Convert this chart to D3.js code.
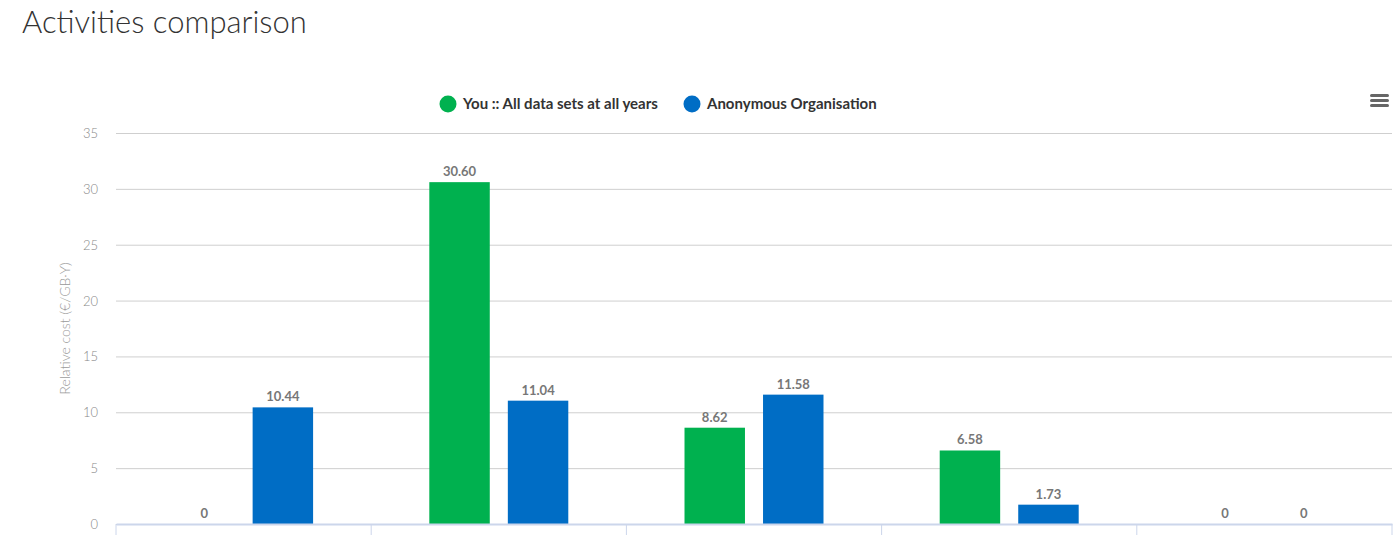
<!DOCTYPE html>
<html>
<head>
<meta charset="utf-8">
<script src="https://cdn.jsdelivr.net/npm/d3@7"></script>
<style>
	body { margin:0; background:#fff; }
	svg { display:block; font-family:Lato, 'Open Sans', sans-serif; }
</style>
</head>
<body>
<svg id="chart" width="1394" height="540"></svg>
<script>

var categories = ['Production','Ingestion','Archival storage','Access','Other'];
var seriesNames = ['You :: All data sets at all years','Anonymous Organisation'];
var youValues = [0, 30.60, 8.62, 6.58, 0];
var orgValues = [10.44, 11.04, 11.58, 1.73, 0];
var yTicks = [0,5,10,15,20,25,30,35];

var colors = ['#00b14f','#006dc5'];

var width = 1394;
var height = 540;
var marginLeft = 116;
var marginRight = 2;
var marginTop = 133;
var plotBottom = 524;

var svg = d3.select('#chart');

// title
svg.append('text')
	.attr('x',22)
	.attr('y',33)
	.style('font-size','31px')
	.style('font-weight','300')
	.style('fill','#333')
	.text('Activities comparison');

var x = d3.scaleBand()
		.domain(categories)
		.range([marginLeft, width-marginRight]);

var xInner = d3.scaleBand()
		.domain([0,1])
		.range([0, x.bandwidth()])
		.paddingInner(0.23)
		.paddingOuter(0.74);

var y = d3.scaleLinear()
		.domain([0,35])
		.range([plotBottom, marginTop]);

// grid
var grid = svg.append('g')
		.attr('transform','translate('+marginLeft+',0)')
		.call(d3.axisLeft(y).tickValues(yTicks).tickSize(-(width-marginRight-marginLeft)).tickFormat(''));
grid.select('.domain').remove();
grid.selectAll('line').attr('stroke','#cfcfcf');

// y labels
svg.append('g').selectAll('text')
	.data(yTicks)
	.enter()
	.append('text')
	.attr('x',98)
	.attr('y',function(d){ return y(d)+5 })
	.style('text-anchor','end')
	.style('font-size','13px')
	.style('font-weight','300')
	.style('fill','#888')
	.text(function(d){ return d });

svg.append('text')
	.attr('transform','translate(70,'+((marginTop+plotBottom)/2)+') rotate(-90)')
	.style('text-anchor','middle')
	.style('font-size','14px')
	.style('font-weight','300')
	.style('fill','#999')
	.text('Relative cost (€/GB·Y)');

// bars
var data = categories.map(function(c,i){ return { name:c, values:[youValues[i],orgValues[i]] } });

var groups = svg.selectAll('.grp')
		.data(data)
		.enter()
		.append('g')
		.attr('class','grp')
		.attr('transform',function(d){ return 'translate('+x(d.name)+',0)' });

groups.selectAll('rect')
	.data(function(d){ return d.values.map(function(v,k){ return {k:k,v:v} }) })
	.enter()
	.append('rect')
	.attr('x',function(d){ return xInner(d.k) })
	.attr('width',xInner.bandwidth())
	.attr('y',function(d){ return y(d.v) })
	.attr('height',function(d){ return y(0)-y(d.v) })
	.attr('fill',function(d){ return colors[d.k] });

groups.selectAll('.lbl')
	.data(function(d){ return d.values.map(function(v,k){ return {k:k,v:v} }) })
	.enter()
	.append('text')
	.attr('class','lbl')
	.attr('x',function(d){ return xInner(d.k)+xInner.bandwidth()/2 })
	.attr('y',function(d){ return y(d.v)-6 })
	.style('text-anchor','middle')
	.style('font-size','13px')
	.style('font-weight','bold')
	.style('fill','#777')
	.text(function(d){ return d.v===0 ? '0' : d.v.toFixed(2) });

// x axis
var xAxis = svg.append('g')
		.attr('transform','translate(0,'+plotBottom+')')
		.call(d3.axisBottom(x).tickSize(0).tickPadding(0));
xAxis.select('.domain').attr('stroke','#ccd6eb').attr('stroke-width',2);
xAxis.selectAll('text')
	.attr('y',21)
	.style('font-size','13px')
	.style('font-family','Lato, sans-serif')
	.style('fill','#666');

svg.append('g').selectAll('line')
	.data(categories.concat(['end']))
	.enter()
	.append('line')
	.attr('x1',function(d,i){ return marginLeft + i*x.bandwidth() })
	.attr('x2',function(d,i){ return marginLeft + i*x.bandwidth() })
	.attr('y1',plotBottom)
	.attr('y2',plotBottom+11)
	.attr('stroke','#ccd6eb');

// legend
var legendX = [448,692];
var legend = svg.append('g').selectAll('g')
		.data(seriesNames)
		.enter()
		.append('g')
		.attr('transform',function(d,i){ return 'translate('+legendX[i]+',104)' });
legend.append('circle')
	.attr('r',8.5)
	.attr('fill',function(d,i){ return colors[i] });
legend.append('text')
	.attr('x',15)
	.attr('y',5)
	.style('font-size','15px')
	.style('font-weight','bold')
	.style('fill','#333')
	.text(function(d){ return d });

// menu icon
svg.append('g').selectAll('rect')
	.data([0,1,2])
	.enter()
	.append('rect')
	.attr('x',1370)
	.attr('y',function(d){ return 94+d*5 })
	.attr('width',19)
	.attr('height',3)
	.attr('rx',1.5)
	.attr('fill','#666');

</script>
</body>
</html>
